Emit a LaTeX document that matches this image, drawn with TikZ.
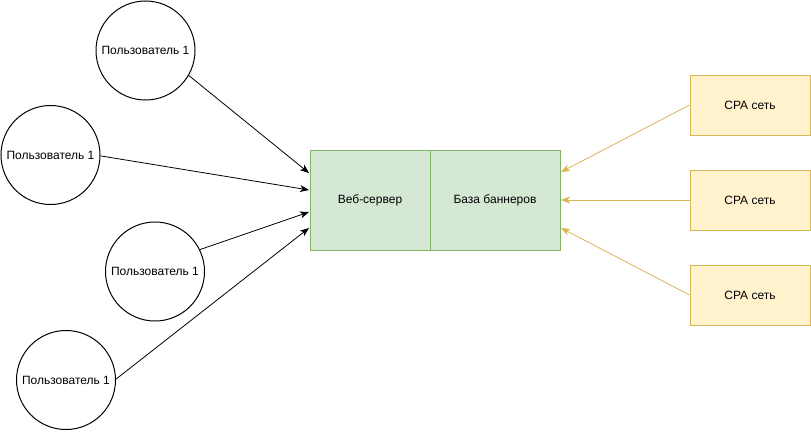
\documentclass[tikz,border=0pt]{standalone}
\usepackage{fontspec}
\setmainfont{Liberation Sans}
\usetikzlibrary{arrows.meta}
\definecolor{gfill}{HTML}{D5E8D4}
\definecolor{gline}{HTML}{82B366}
\definecolor{yfill}{HTML}{FFF2CC}
\definecolor{yline}{HTML}{D6B656}
\begin{document}
\begin{tikzpicture}[x=1pt,y=-1pt,
  font=\fontsize{12pt}{14pt}\selectfont,
  user/.style={circle,draw=black,line width=1pt,fill=white,minimum size=99pt,inner sep=0pt},
  gbox/.style={rectangle,draw=gline,fill=gfill,line width=1pt,minimum height=100pt,inner sep=0pt},
  ybox/.style={rectangle,draw=yline,fill=yfill,line width=1pt,minimum width=120pt,minimum height=60pt,inner sep=0pt},
  arr/.style={line width=0.8pt,draw=black,-{Stealth[length=9pt,width=7pt,inset=2.5pt]}},
  yarr/.style={line width=0.8pt,draw=yline,-{Stealth[length=9pt,width=7pt,inset=2.5pt,fill=yline]}}]
\useasboundingbox (0,0) rectangle (811,431);
% users
\node[user] (u1) at (145.5,50.5) {Пользователь 1};
\node[user] (u2) at (50.5,155) {Пользователь 1};
\node[user] (u3) at (155,271.5) {Пользователь 1};
\node[user] (u4) at (66,380) {Пользователь 1};
% central box
\node[gbox,minimum width=120pt] (web) at (370,200) {Веб-сервер};
\node[gbox,minimum width=130pt] (db) at (495,200) {База баннеров};
% CPA boxes
\node[ybox] (c1) at (750,105) {CPA сеть};
\node[ybox] (c2) at (750,200) {CPA сеть};
\node[ybox] (c3) at (750,295) {CPA сеть};
% targets
\coordinate (t1) at (309,173);
\coordinate (t2) at (309,190);
\coordinate (t3) at (309,212);
\coordinate (t4) at (309,228);
\coordinate (s1) at (561,172);
\coordinate (s2) at (561,200);
\coordinate (s3) at (561,228);
\draw[arr] (u1.-30) -- (t1);
\draw[arr] (u2.-1) -- (t2);
\draw[arr] (u3.26) -- (t3);
\draw[arr] (u4.1) -- (t4);
\draw[yarr] (c1.west) -- (s1);
\draw[yarr] (c2.west) -- (s2);
\draw[yarr] (c3.west) -- (s3);
\end{tikzpicture}
\end{document}
